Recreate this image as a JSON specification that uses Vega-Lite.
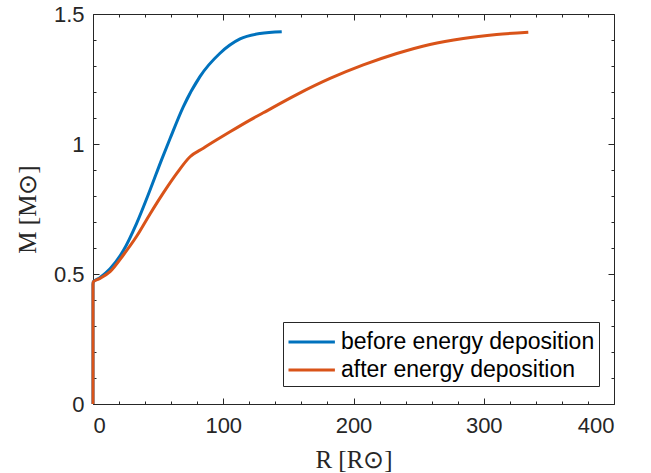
{
  "$schema": "https://vega.github.io/schema/vega-lite/v6.json",
  "width": 521,
  "height": 390,
  "autosize": {"type": "none"},
  "padding": {"left": 93, "top": 14, "right": 37, "bottom": 69},
  "background": "white",
  "config": {
    "view": {"stroke": null},
    "axis": {
      "grid": false,
      "domainColor": "#262626",
      "tickColor": "#262626",
      "labelColor": "#262626",
      "labelFont": "Liberation Sans",
      "labelFontSize": 22,
      "titleFont": "Liberation Serif",
      "titleFontSize": 25,
      "titleFontWeight": "normal",
      "titleColor": "#262626",
      "domainWidth": 1,
      "tickWidth": 1,
      "labelOverlap": false
    }
  },
  "data": {
    "values": [
      {"i": 0, "series": "before energy deposition", "R": 0, "M": 0},
      {"i": 1, "series": "before energy deposition", "R": 0, "M": 0.46},
      {"i": 2, "series": "before energy deposition", "R": 0.23, "M": 0.47},
      {"i": 3, "series": "before energy deposition", "R": 5, "M": 0.485},
      {"i": 4, "series": "before energy deposition", "R": 13.1, "M": 0.52},
      {"i": 5, "series": "before energy deposition", "R": 23.3, "M": 0.59},
      {"i": 6, "series": "before energy deposition", "R": 33.5, "M": 0.695},
      {"i": 7, "series": "before energy deposition", "R": 43.8, "M": 0.823},
      {"i": 8, "series": "before energy deposition", "R": 52.7, "M": 0.94},
      {"i": 9, "series": "before energy deposition", "R": 59.1, "M": 1.02},
      {"i": 10, "series": "before energy deposition", "R": 69.3, "M": 1.143},
      {"i": 11, "series": "before energy deposition", "R": 82.1, "M": 1.259},
      {"i": 12, "series": "before energy deposition", "R": 97.5, "M": 1.349},
      {"i": 13, "series": "before energy deposition", "R": 112.9, "M": 1.404},
      {"i": 14, "series": "before energy deposition", "R": 128.2, "M": 1.425},
      {"i": 15, "series": "before energy deposition", "R": 144.9, "M": 1.432},
      {"i": 0, "series": "after energy deposition", "R": 0, "M": 0},
      {"i": 1, "series": "after energy deposition", "R": 0, "M": 0.46},
      {"i": 2, "series": "after energy deposition", "R": 0.23, "M": 0.47},
      {"i": 3, "series": "after energy deposition", "R": 5, "M": 0.482},
      {"i": 4, "series": "after energy deposition", "R": 13.1, "M": 0.509},
      {"i": 5, "series": "after energy deposition", "R": 23.3, "M": 0.573},
      {"i": 6, "series": "after energy deposition", "R": 33.5, "M": 0.645},
      {"i": 7, "series": "after energy deposition", "R": 43.8, "M": 0.731},
      {"i": 8, "series": "after energy deposition", "R": 54.0, "M": 0.812},
      {"i": 9, "series": "after energy deposition", "R": 64.3, "M": 0.887},
      {"i": 10, "series": "after energy deposition", "R": 74.5, "M": 0.951},
      {"i": 11, "series": "after energy deposition", "R": 84.7, "M": 0.984},
      {"i": 12, "series": "after energy deposition", "R": 95.0, "M": 1.016},
      {"i": 13, "series": "after energy deposition", "R": 105.2, "M": 1.047},
      {"i": 14, "series": "after energy deposition", "R": 120.5, "M": 1.092},
      {"i": 15, "series": "after energy deposition", "R": 130.7, "M": 1.12},
      {"i": 16, "series": "after energy deposition", "R": 156.4, "M": 1.19},
      {"i": 17, "series": "after energy deposition", "R": 182.0, "M": 1.252},
      {"i": 18, "series": "after energy deposition", "R": 207.5, "M": 1.304},
      {"i": 19, "series": "after energy deposition", "R": 233.2, "M": 1.348},
      {"i": 20, "series": "after energy deposition", "R": 258.7, "M": 1.383},
      {"i": 21, "series": "after energy deposition", "R": 284.3, "M": 1.406},
      {"i": 22, "series": "after energy deposition", "R": 309.9, "M": 1.421},
      {"i": 23, "series": "after energy deposition", "R": 334.2, "M": 1.43}
    ]
  },
  "layer": [
    {
      "mark": {"type": "line", "strokeWidth": 3, "interpolate": "monotone"},
      "encoding": {
        "x": {
          "field": "R", "type": "quantitative",
          "scale": {"domain": [0, 400], "nice": false},
          "axis": {
            "orient": "bottom",
            "title": "R [R⊙]",
            "values": [0,20,40,60,80,100,120,140,160,180,200,220,240,260,280,300,320,340,360,380,400],
            "labelExpr": "datum.value % 100 === 0 ? datum.label : ''",
            "tickSize": {"condition": {"test": "datum.value % 100 === 0", "value": -6}, "value": -3},
            "labelPadding": 17,
            "titlePadding": 8
          }
        },
        "y": {
          "field": "M", "type": "quantitative",
          "scale": {"domain": [0, 1.5], "nice": false},
          "axis": {
            "orient": "left",
            "title": "M [M⊙]",
            "values": [0,0.1,0.2,0.3,0.4,0.5,0.6,0.7,0.8,0.9,1,1.1,1.2,1.3,1.4,1.5],
            "format": "~g",
            "labelExpr": "abs(datum.value*2 - round(datum.value*2)) < 1e-6 ? datum.label : ''",
            "tickSize": {"condition": {"test": "abs(datum.value*2 - round(datum.value*2)) < 1e-6", "value": -6}, "value": -3},
            "labelPadding": 15,
            "titlePadding": 13
          }
        },
        "color": {
          "field": "series", "type": "nominal",
          "scale": {"domain": ["before energy deposition", "after energy deposition"], "range": ["#0072BD", "#D95319"]},
          "legend": {
            "orient": "none",
            "legendX": 190,
            "legendY": 308,
            "title": null,
            "strokeColor": "#262626",
            "fillColor": "white",
            "padding": 4,
            "labelFont": "Liberation Sans",
            "labelFontSize": 23,
            "labelColor": "#000000",
            "labelLimit": 0,
            "symbolType": "M-1,0H2.2",
            "symbolSize": 841,
            "symbolStrokeWidth": 3,
            "symbolFillColor": "transparent",
            "labelOffset": 22,
            "rowPadding": 0
          }
        },
        "order": {"field": "i"}
      }
    },
    {
      "mark": {"type": "line", "opacity": 0},
      "encoding": {
        "x": {
          "field": "R", "type": "quantitative",
          "axis": {
            "orient": "top", "title": null, "labels": false,
            "values": [0,20,40,60,80,100,120,140,160,180,200,220,240,260,280,300,320,340,360,380,400],
            "tickSize": {"condition": {"test": "datum.value % 100 === 0", "value": -6}, "value": -3}
          }
        },
        "y": {
          "field": "M", "type": "quantitative",
          "axis": {
            "orient": "right", "title": null, "labels": false,
            "values": [0,0.1,0.2,0.3,0.4,0.5,0.6,0.7,0.8,0.9,1,1.1,1.2,1.3,1.4,1.5],
            "tickSize": {"condition": {"test": "abs(datum.value*2 - round(datum.value*2)) < 1e-6", "value": -6}, "value": -3}
          }
        },
        "detail": {"field": "series"},
        "order": {"field": "i"}
      }
    }
  ],
  "resolve": {"axis": {"x": "independent", "y": "independent"}}
}
